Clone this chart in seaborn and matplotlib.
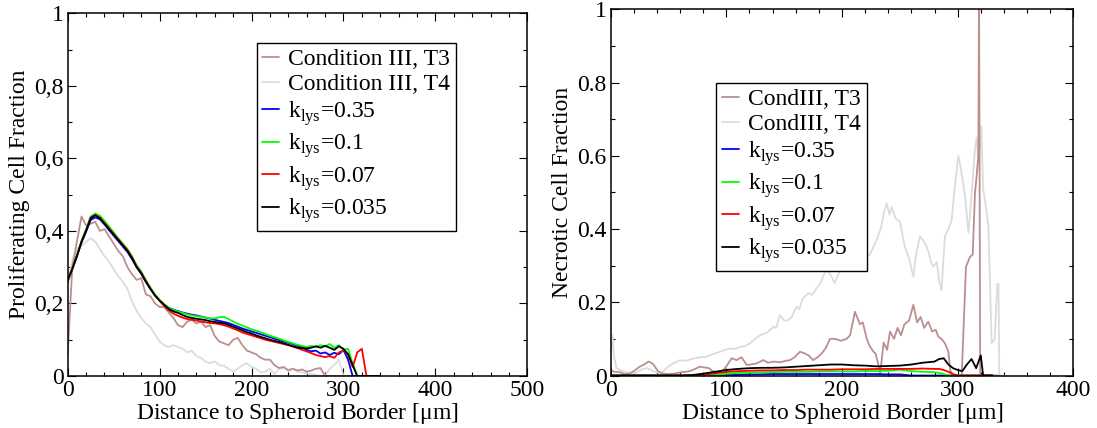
import matplotlib
matplotlib.use("Agg")
import matplotlib.pyplot as plt
from matplotlib.ticker import MultipleLocator, FixedLocator
import seaborn as sns

# ---------------- left panel: proliferating fraction ----------------
x_left = [0, 5, 10, 15, 20, 25, 30, 35, 40, 45,
          50, 55, 60, 65, 70, 75, 80, 85, 90, 95,
          100, 105, 110, 115, 120, 125, 130, 135, 140, 145,
          150, 155, 160, 165, 170, 175, 180, 185, 190, 195,
          200, 205, 210, 215, 220, 225, 230, 235, 240, 245,
          250, 255, 260, 265, 270, 275, 280, 285, 290, 295,
          300, 305, 310, 315, 320, 325, 330, 335, 340]

prolif_t3 = [0.06, 0.30, 0.37, 0.44, 0.415, 0.42, 0.425, 0.40, 0.405, 0.385,
             0.365, 0.345, 0.33, 0.30, 0.28, 0.265, 0.27, 0.225, 0.22, 0.20,
             0.19, 0.19, 0.175, 0.16, 0.14, 0.135, 0.15, 0.155, 0.145, 0.15,
             0.135, 0.14, 0.11, 0.095, 0.09, 0.085, 0.1, 0.105, 0.085, 0.07,
             0.065, 0.06, 0.05, 0.045, 0.045, 0.03, 0.022, 0.025, 0.015, 0.02,
             0.015, 0.018, 0.012, 0.015, 0.02, 0.022, 0.0, 0, 0, 0,
             0, 0, 0, 0, 0, 0, 0, 0, 0]
prolif_t4 = [0.25, 0.32, 0.35, 0.36, 0.37, 0.38, 0.37, 0.35, 0.33, 0.315,
             0.295, 0.275, 0.26, 0.24, 0.205, 0.18, 0.16, 0.145, 0.135, 0.115,
             0.095, 0.085, 0.08, 0.085, 0.08, 0.075, 0.065, 0.07, 0.055, 0.05,
             0.04, 0.035, 0.04, 0.03, 0.028, 0.02, 0.012, 0.02, 0.03, 0.035,
             0.025, 0.02, 0.01, 0.012, 0.02, 0.005, 0.02, 0.022, 0.018, 0.02,
             0.012, 0.01, 0.008, 0.005, 0.003, 0.0, 0.0, 0.02, 0.03, 0.045,
             0.0, 0, 0, 0, 0, 0, 0, 0, 0]
prolif_035 = [0.262, 0.295, 0.33, 0.368, 0.398, 0.43, 0.437, 0.432, 0.418, 0.402,
              0.387, 0.372, 0.357, 0.342, 0.322, 0.3, 0.282, 0.26, 0.24, 0.222,
              0.208, 0.197, 0.188, 0.183, 0.179, 0.175, 0.172, 0.169, 0.167, 0.164,
              0.161, 0.158, 0.155, 0.152, 0.149, 0.146, 0.141, 0.136, 0.131, 0.127,
              0.123, 0.119, 0.115, 0.111, 0.107, 0.103, 0.099, 0.095, 0.092, 0.088,
              0.083, 0.079, 0.072, 0.068, 0.07, 0.062, 0.065, 0.058, 0.064, 0.06,
              0.072, 0.045, 0.0, 0, 0, 0, 0, 0, 0]
prolif_01 = [0.262, 0.297, 0.333, 0.373, 0.405, 0.44, 0.448, 0.442, 0.428, 0.412,
             0.396, 0.38, 0.365, 0.35, 0.33, 0.306, 0.288, 0.265, 0.244, 0.225,
             0.21, 0.198, 0.188, 0.182, 0.178, 0.174, 0.17, 0.167, 0.165, 0.163,
             0.161, 0.159, 0.159, 0.162, 0.163, 0.157, 0.15, 0.144, 0.139, 0.134,
             0.129, 0.125, 0.121, 0.116, 0.111, 0.107, 0.103, 0.098, 0.094, 0.09,
             0.086, 0.083, 0.08, 0.083, 0.08, 0.085, 0.082, 0.088, 0.078, 0.085,
             0.072, 0.075, 0.035, 0.0, 0, 0, 0, 0, 0]
prolif_007 = [0.262, 0.296, 0.332, 0.37, 0.402, 0.437, 0.444, 0.437, 0.422, 0.407,
              0.392, 0.377, 0.362, 0.347, 0.327, 0.302, 0.285, 0.262, 0.241, 0.222,
              0.207, 0.193, 0.181, 0.172, 0.166, 0.161, 0.157, 0.155, 0.153, 0.15,
              0.148, 0.146, 0.145, 0.143, 0.14, 0.136, 0.131, 0.126, 0.12, 0.116,
              0.112, 0.108, 0.104, 0.1, 0.097, 0.094, 0.091, 0.088, 0.085, 0.081,
              0.077, 0.072, 0.068, 0.063, 0.058, 0.055, 0.052, 0.055, 0.05, 0.065,
              0.07, 0.06, 0.025, 0.065, 0.075, 0.0, 0, 0, 0]
prolif_0035 = [0.265, 0.295, 0.33, 0.37, 0.40, 0.435, 0.443, 0.435, 0.42, 0.405,
               0.39, 0.375, 0.36, 0.345, 0.325, 0.30, 0.283, 0.26, 0.24, 0.222,
               0.208, 0.196, 0.185, 0.178, 0.174, 0.168, 0.163, 0.16, 0.158, 0.156,
               0.154, 0.151, 0.149, 0.147, 0.145, 0.141, 0.136, 0.131, 0.126, 0.121,
               0.117, 0.112, 0.108, 0.104, 0.1, 0.097, 0.094, 0.09, 0.086, 0.082,
               0.078, 0.077, 0.076, 0.078, 0.082, 0.078, 0.083, 0.078, 0.072, 0.082,
               0.075, 0.06, 0.03, 0.0, 0, 0, 0, 0, 0]

# ---------------- right panel: necrotic fraction ----------------
x_necro_t3 = [0, 3, 8, 12, 16, 20, 25, 29, 32.5, 35, 37, 41, 45, 50, 55, 61, 65, 68.5,
              73, 77, 81, 85, 88, 92, 96, 100, 104.6, 109, 113, 117.6, 121, 126, 132,
              136, 141, 146.5, 151, 155, 159, 163.7, 168, 171, 175, 179, 182.4, 186,
              189.6, 194, 199, 204, 207, 211.2, 215.5, 218, 221.4, 224, 227.2, 229,
              231.4, 233, 236, 239, 241.5, 245, 248, 251, 254, 258, 261.7, 265, 268,
              271, 274.6, 278, 281, 283.3, 286, 289, 292, 293.5, 296, 300, 303.5, 305,
              307.2, 310.7, 313, 315, 316, 317.9, 318.5, 319.5, 325, 335]
necro_t3 = [0.015, 0.01, 0.009, 0.004, 0.005, 0.012, 0.024, 0.03, 0.038, 0.035, 0.03,
            0.011, 0.005, 0.004, 0.005, 0.009, 0.01, 0.012, 0.018, 0.024, 0.022, 0.02,
            0.012, 0.009, 0.01, 0.025, 0.047, 0.042, 0.05, 0.029, 0.03, 0.033, 0.042,
            0.035, 0.038, 0.036, 0.04, 0.042, 0.05, 0.065, 0.06, 0.055, 0.042, 0.05,
            0.06, 0.075, 0.10, 0.10, 0.095, 0.10, 0.11, 0.174, 0.14, 0.145, 0.10,
            0.08, 0.065, 0.06, 0.03, 0.005, 0.09, 0.07, 0.12, 0.1, 0.13, 0.11, 0.14,
            0.15, 0.193, 0.145, 0.16, 0.13, 0.147, 0.12, 0.125, 0.106, 0.1, 0.088,
            0.065, 0.015, 0.0, 0.0, 0.0, 0.12, 0.297, 0.324, 0.33, 0.50, 0.53, 0.60,
            1.05, 0.0, 0.0, 0.0]

x_necro_t4 = [0, 1.5, 3, 5, 8, 11, 15, 19.4, 23, 28, 32, 36.7, 41, 45, 50, 54, 60,
              65, 70, 77, 82, 86, 90, 94.5, 99, 103, 107, 111.8, 116, 120.4, 125, 129,
              134.8, 140.6, 143, 146.4, 150, 153, 156.5, 160.8, 163, 166, 171, 174,
              177, 181, 186, 189, 191, 193.5, 196, 199.5, 203, 207, 210, 213, 216,
              219, 222, 224, 227, 230, 234, 236, 238.6, 241, 243, 246, 250, 252,
              254.5, 258, 261.7, 264, 267.4, 270, 272, 274.6, 277, 279, 282, 284,
              286, 289, 292, 294.9, 297, 300.6, 303, 306.4, 309.3, 312, 315, 316.5,
              318, 320.5, 322, 324, 326.5, 328, 329.4, 332, 334.3, 335.3, 336, 340]
necro_t4 = [0.05, 0.11, 0.05, 0.02, 0.015, 0.012, 0.008, 0.005, 0.01, 0.018, 0.02,
            0.012, 0.008, 0.01, 0.025, 0.033, 0.042, 0.04, 0.045, 0.05, 0.05, 0.056,
            0.06, 0.065, 0.07, 0.074, 0.072, 0.078, 0.08, 0.088, 0.1, 0.11, 0.116,
            0.133, 0.13, 0.165, 0.15, 0.15, 0.16, 0.188, 0.18, 0.21, 0.225, 0.22,
            0.234, 0.25, 0.288, 0.28, 0.27, 0.252, 0.27, 0.297, 0.3, 0.315, 0.31,
            0.334, 0.34, 0.347, 0.33, 0.33, 0.35, 0.37, 0.406, 0.44, 0.47, 0.44,
            0.46, 0.43, 0.42, 0.39, 0.35, 0.32, 0.27, 0.33, 0.38, 0.37, 0.36, 0.34,
            0.31, 0.297, 0.31, 0.26, 0.233, 0.38, 0.4, 0.425, 0.5, 0.60, 0.56, 0.49,
            0.39, 0.49, 0.62, 0.65, 0.58, 0.68, 0.51, 0.47, 0.41, 0.25, 0.088, 0.1,
            0.25, 0.25, 0.0, 0.0]

x_necro_sim = [0, 10, 20, 30, 40, 50, 60, 70,
               80, 90, 100, 110, 120, 130, 140, 150, 160, 170, 180, 190, 200,
               210, 220, 230, 240, 250, 260, 270, 280,
               284, 288, 292, 296, 300, 304, 308, 312, 316, 320, 322, 330]
necro_035 = [0, 0, 0, 0, 0, 0, 0, 0,
             0, 0, 0.001, 0.002, 0.003, 0.003, 0.004, 0.004, 0.004, 0.004, 0.004, 0.004, 0.004,
             0.004, 0.004, 0.004, 0.003, 0.003, 0.0, 0, 0,
             0, 0, 0, 0, 0, 0, 0, 0, 0, 0, 0, 0]
necro_01 = [0, 0, 0, 0, 0, 0, 0, 0,
            0.0, 0.002, 0.005, 0.007, 0.008, 0.009, 0.009, 0.01, 0.01, 0.01, 0.011, 0.011, 0.011,
            0.011, 0.012, 0.012, 0.013, 0.016, 0.012, 0.01, 0.009,
            0.007, 0.004, 0.0, 0, 0, 0, 0, 0, 0, 0, 0, 0]
necro_007 = [0, 0, 0, 0, 0, 0, 0, 0,
             0.002, 0.006, 0.01, 0.012, 0.013, 0.014, 0.014, 0.015, 0.015, 0.016, 0.016, 0.016, 0.017,
             0.017, 0.017, 0.018, 0.018, 0.018, 0.018, 0.019, 0.018,
             0.018, 0.015, 0.01, 0.004, 0.0, 0, 0, 0, 0, 0, 0, 0]
necro_0035 = [0, 0, 0, 0, 0, 0, 0, 0.001,
              0.005, 0.01, 0.015, 0.018, 0.02, 0.021, 0.021, 0.022, 0.024, 0.026, 0.028, 0.03, 0.03,
              0.028, 0.027, 0.025, 0.026, 0.027, 0.03, 0.035, 0.038,
              0.045, 0.047, 0.03, 0.02, 0.015, 0.012, 0.03, 0.045, 0.02, 0.055, 0.0, 0.0]

left_labels = ["Condition III, T3", "Condition III, T4"]
right_labels = ["CondIII, T3", "CondIII, T4"]
k_labels = [r"k$_\mathregular{lys}$=0.35", r"k$_\mathregular{lys}$=0.1",
            r"k$_\mathregular{lys}$=0.07", r"k$_\mathregular{lys}$=0.035"]
colors = ["#bc8f8f", "#dcdcdc", "#0000ff", "#00ff00", "#ff0000", "#000000"]

left_yticks = [0, 0.2, 0.4, 0.6, 0.8, 1]
left_yticklabels = ["0", "0,2", "0,4", "0,6", "0,8", "1"]
right_yticks = [0, 0.2, 0.4, 0.6, 0.8, 1]
right_yticklabels = ["0", "0.2", "0.4", "0.6", "0.8", "1"]
left_xticks = [0, 100, 200, 300, 400, 500]
right_xticks = [0, 100, 200, 300, 400]

sns.set_theme(style="ticks")
plt.rcParams["font.family"] = ["Liberation Serif", "DejaVu Serif"]
plt.rcParams["axes.edgecolor"] = "black"
plt.rcParams["xtick.color"] = "black"
plt.rcParams["ytick.color"] = "black"
plt.rcParams["text.color"] = "black"
plt.rcParams["axes.labelcolor"] = "black"

fig = plt.figure(figsize=(10.97, 4.28), dpi=100)
ax1 = fig.add_axes([67.7 / 1097, 1 - 376 / 428, 459.6 / 1097, 362.7 / 428])
ax2 = fig.add_axes([610.7 / 1097, 1 - 375.5 / 428, 462.6 / 1097, 366.2 / 428])

lw = 1.3
# left
sns.lineplot(x=x_left, y=prolif_t4, color=colors[1], lw=lw, estimator=None, sort=False,
             ax=ax1, label=left_labels[1], zorder=1)
sns.lineplot(x=x_left, y=prolif_t3, color=colors[0], lw=lw, estimator=None, sort=False,
             ax=ax1, label=left_labels[0], zorder=1.5)
for ys, c, lab in zip([prolif_035, prolif_01, prolif_007, prolif_0035], colors[2:], k_labels):
    sns.lineplot(x=x_left, y=ys, color=c, lw=lw, estimator=None, sort=False, ax=ax1, label=lab)

# right
sns.lineplot(x=x_necro_t4, y=necro_t4, color=colors[1], lw=lw, estimator=None, sort=False,
             ax=ax2, label=right_labels[1], zorder=1)
sns.lineplot(x=x_necro_t3, y=necro_t3, color=colors[0], lw=lw, estimator=None, sort=False,
             ax=ax2, label=right_labels[0], zorder=1.5)
for ys, c, lab in zip([necro_035, necro_01, necro_007, necro_0035], colors[2:], k_labels):
    sns.lineplot(x=x_necro_sim, y=ys, color=c, lw=lw, estimator=None, sort=False, ax=ax2, label=lab)

fs = 17
for ax, xt, yt, ytl, xmax, ylab in [
        (ax1, left_xticks, left_yticks, left_yticklabels, 500, "Proliferating Cell Fraction"),
        (ax2, right_xticks, right_yticks, right_yticklabels, 400, "Necrotic Cell Fraction")]:
    ax.set_xlim(0, xmax)
    ax.set_ylim(0, 1)
    ax.xaxis.set_major_locator(FixedLocator(xt))
    ax.set_xticklabels([str(v) for v in xt])
    ax.yaxis.set_major_locator(FixedLocator(yt))
    ax.set_yticklabels(ytl)
    ax.xaxis.set_minor_locator(MultipleLocator(20))
    ax.yaxis.set_minor_locator(MultipleLocator(0.1))
    ax.tick_params(which="both", direction="in", top=True, right=True, width=0.8,
                   labelsize=fs)
    ax.tick_params(axis="x", which="both", pad=3)
    ax.tick_params(axis="y", which="both", pad=3)
    ax.tick_params(which="major", length=5.5)
    ax.tick_params(which="minor", length=3)
    for s in ax.spines.values():
        s.set_linewidth(1.1)
        s.set_color("black")
    ax.set_xlabel(r"Distance to Spheroid Border [$\mathregular{\mu}$m]", fontsize=fs, labelpad=0)
    ax.set_ylabel(ylab, fontsize=fs, labelpad=3)

def make_legend(ax, anchor):
    h, l = ax.get_legend_handles_labels()
    order = [1, 0, 2, 3, 4, 5]
    leg = ax.legend([h[i] for i in order], [l[i] for i in order], loc="upper left",
                    bbox_to_anchor=anchor, fontsize=fs, frameon=True, fancybox=False,
                    edgecolor="black", framealpha=1, borderpad=0.25, labelspacing=0.16,
                    handlelength=0.7, handletextpad=0.4, borderaxespad=0)
    leg.get_frame().set_linewidth(1.0)

make_legend(ax1, (0.411, 0.919))
make_legend(ax2, (0.228, 0.80))

fig.savefig("out.png", dpi=100)
